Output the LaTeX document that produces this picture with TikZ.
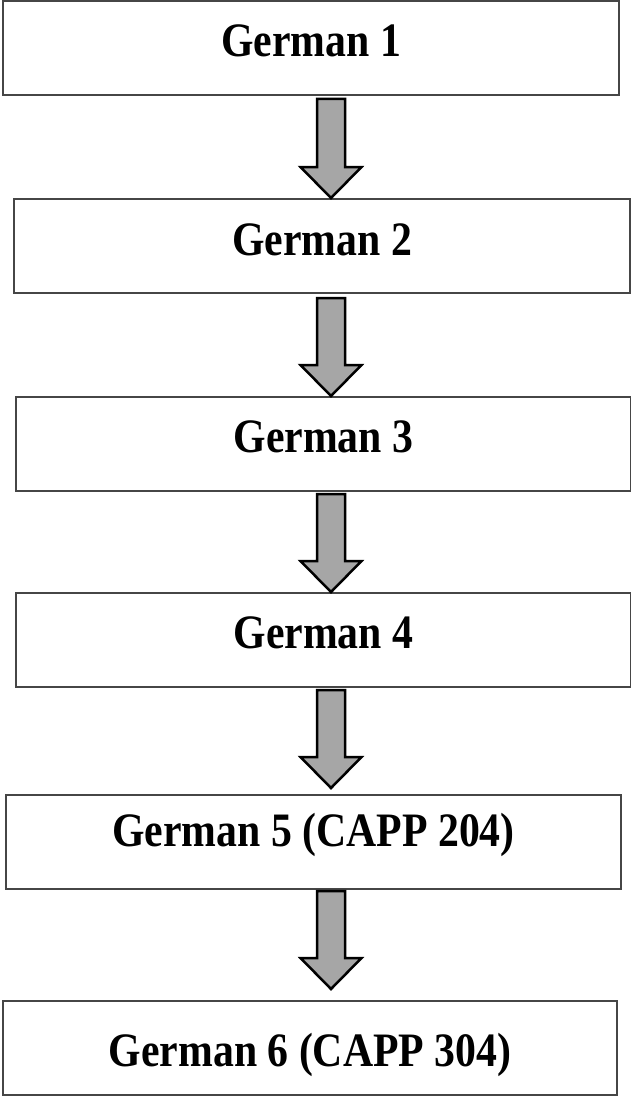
\documentclass[tikz,border=0pt]{standalone}
\usepackage{fontspec}
\setmainfont[FakeStretch=0.87]{Liberation Serif}
\usetikzlibrary{calc}
\definecolor{boxline}{RGB}{70,70,70}
\definecolor{arrowfill}{RGB}{166,166,166}
\newcommand{\blockarrow}[4]{%
  \draw[flowarrow] ($(#1.south -| ax)+(-14,#2)$) -- ($(#1.south -| ax)+(14,#2)$)
    -- ($(#3.north -| ax)+(14,-31-#4)$) -- ($(#3.north -| ax)+(30.5,-31-#4)$)
    -- ($(#3.north -| ax)+(0,-#4)$) -- ($(#3.north -| ax)+(-30.5,-31-#4)$)
    -- ($(#3.north -| ax)+(-14,-31-#4)$) -- cycle;}
\begin{document}
\begin{tikzpicture}[x=1pt,y=-1pt,
  box/.style={draw=boxline, line width=2pt, fill=white, rectangle, inner sep=0pt, minimum height=94pt},
  lbl/.style={font=\fontsize{48}{56}\selectfont\bfseries, anchor=base, inner sep=0pt},
  flowarrow/.style={draw=black, line width=2.5pt, fill=arrowfill, line join=miter}]
\useasboundingbox[fill=white] (0,0) rectangle (631,1097);
\coordinate (ax) at (331,0);
\node[box, minimum width=616pt] (b1) at (311,48) {};
\node[box, minimum width=616pt] (b2) at (322,246) {};
\node[box, minimum width=615pt] (b3) at (323.5,444) {};
\node[box, minimum width=615pt] (b4) at (323.5,640) {};
\node[box, minimum width=615pt] (b5) at (313.5,842) {};
\node[box, minimum width=614pt] (b6) at (310,1048) {};
\node[lbl] (t1) at ($(b1.center)+(0,9)$) {German 1};
\node[lbl] (t2) at ($(b2.center)+(0,9)$) {German 2};
\node[lbl] (t3) at ($(b3.center)+(0,8)$) {German 3};
\node[lbl] (t4) at ($(b4.center)+(0,8)$) {German 4};
\node[lbl] (t5) at ($(b5.center)+(0,4)$) {German 5 (CAPP 204)};
\node[lbl] (t6) at ($(b6.center)+(0,18)$) {German 6 (CAPP 304)};
\blockarrow{b1}{3}{b2}{0}
\blockarrow{b2}{4}{b3}{0}
\blockarrow{b3}{2}{b4}{0}
\blockarrow{b4}{2}{b5}{6}
\blockarrow{b5}{1}{b6}{11}
\end{tikzpicture}
\end{document}
